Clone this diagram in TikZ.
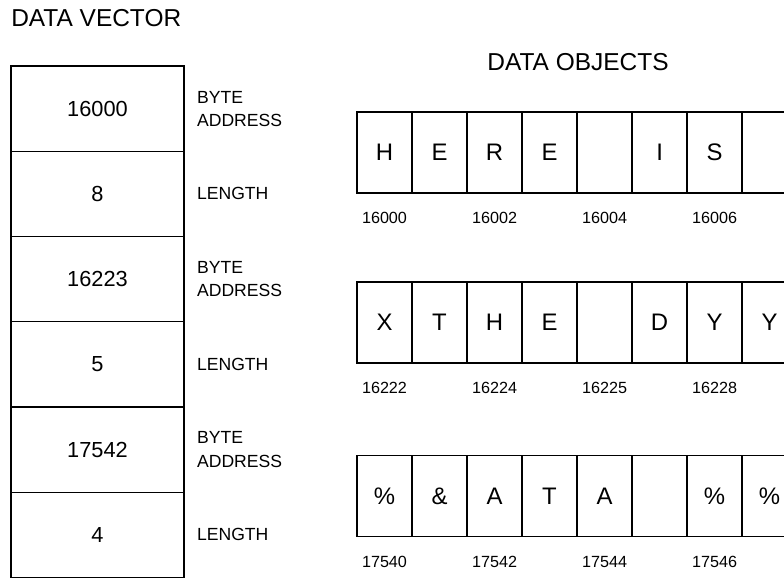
\documentclass[tikz,border=0pt]{standalone}
\usepackage{fontspec}
\setmainfont{Liberation Sans}
\usetikzlibrary{positioning}

\tikzset{
    % Data vector
    vcell/.style={
        rectangle,
        draw=black,
        line width=1pt,
        minimum width=4.325cm,
        minimum height=2.13cm,
        inner sep=0pt,
        outer sep=0pt,
        font=\fontsize{15.5}{18}\selectfont
    },
    vnote/.style={
        inner sep=0pt,
        align=left,
        font=\fontsize{12.5}{16.5}\selectfont
    },
    % Data objects
    ocell/.style={
        rectangle,
        draw=black,
        line width=1pt,
        minimum width=1.375cm,
        minimum height=2.025cm,
        inner sep=0pt,
        outer sep=0pt,
        font=\fontsize{17}{20}\selectfont
    },
    addr/.style={
        inner sep=0pt,
        font=\fontsize{11.5}{14}\selectfont
    },
    % Headings
    heading/.style={
        inner sep=0pt,
        font=\fontsize{17.4}{20}\selectfont
    }
}

\begin{document}
\begin{tikzpicture}[x=0.025cm, y=-0.025cm]

    \useasboundingbox (0,0) rectangle (784,581);
    \clip (0,0) rectangle (784,581);

    % Headings
    \node[heading, anchor=west] (vtitle) at (11,18) {DATA VECTOR};
    \node[heading] (otitle) at (578,62) {DATA OBJECTS};

    % Data vector
    \node[vcell] (addr1) at (97.5,108.7) {16000};
    \node[vcell, below=0pt of addr1] (len1) {8};
    \node[vcell, below=0pt of len1] (addr2) {16223};
    \node[vcell, below=0pt of addr2] (len2) {5};
    \node[vcell, below=0pt of len2] (addr3) {17542};
    \node[vcell, below=0pt of addr3] (len3) {4};

    \node[vnote, right=0.32cm of addr1] (addrnote1) {BYTE\\ADDRESS};
    \node[vnote, right=0.32cm of len1] (lennote1) {LENGTH};
    \node[vnote, right=0.32cm of addr2] (addrnote2) {BYTE\\ADDRESS};
    \node[vnote, right=0.32cm of len2] (lennote2) {LENGTH};
    \node[vnote, right=0.32cm of addr3] (addrnote3) {BYTE\\ADDRESS};
    \node[vnote, right=0.32cm of len3] (lennote3) {LENGTH};

    % Object 1
    \node[ocell] (ha1) at (384.5,152.5) {H};
    \node[ocell, right=0pt of ha1] (ha2) {E};
    \node[ocell, right=0pt of ha2] (ha3) {R};
    \node[ocell, right=0pt of ha3] (ha4) {E};
    \node[ocell, right=0pt of ha4] (ha5) {};
    \node[ocell, right=0pt of ha5] (ha6) {I};
    \node[ocell, right=0pt of ha6] (ha7) {S};
    \node[ocell, right=0pt of ha7] (ha8) {};

    \node[addr, below=0.48cm of ha1] (hn1) {16000};
    \node[addr, below=0.48cm of ha3] (hn3) {16002};
    \node[addr, below=0.48cm of ha5] (hn5) {16004};
    \node[addr, below=0.48cm of ha7] (hn7) {16006};

    % Object 2
    \node[ocell] (xa1) at (384.5,322.5) {X};
    \node[ocell, right=0pt of xa1] (xa2) {T};
    \node[ocell, right=0pt of xa2] (xa3) {H};
    \node[ocell, right=0pt of xa3] (xa4) {E};
    \node[ocell, right=0pt of xa4] (xa5) {};
    \node[ocell, right=0pt of xa5] (xa6) {D};
    \node[ocell, right=0pt of xa6] (xa7) {Y};
    \node[ocell, right=0pt of xa7] (xa8) {Y};

    \node[addr, below=0.48cm of xa1] (xn1) {16222};
    \node[addr, below=0.48cm of xa3] (xn3) {16224};
    \node[addr, below=0.48cm of xa5] (xn5) {16225};
    \node[addr, below=0.48cm of xa7] (xn7) {16228};

    % Object 3
    \node[ocell] (pa1) at (384.5,496) {\%};
    \node[ocell, right=0pt of pa1] (pa2) {\&};
    \node[ocell, right=0pt of pa2] (pa3) {A};
    \node[ocell, right=0pt of pa3] (pa4) {T};
    \node[ocell, right=0pt of pa4] (pa5) {A};
    \node[ocell, right=0pt of pa5] (pa6) {};
    \node[ocell, right=0pt of pa6] (pa7) {\%};
    \node[ocell, right=0pt of pa7] (pa8) {\%};

    \node[addr, below=0.48cm of pa1] (pn1) {17540};
    \node[addr, below=0.48cm of pa3] (pn3) {17542};
    \node[addr, below=0.48cm of pa5] (pn5) {17544};
    \node[addr, below=0.48cm of pa7] (pn7) {17546};

\end{tikzpicture}
\end{document}
